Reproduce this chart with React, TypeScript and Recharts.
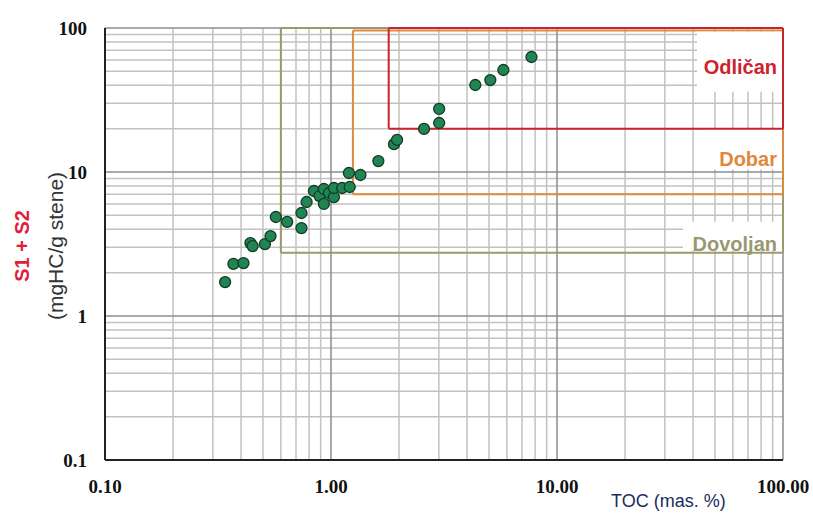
import React from 'react'
import {
  ScatterChart,
  Scatter,
  XAxis,
  YAxis,
  ReferenceLine,
} from 'recharts'

// TOC (mas. %) and S1 + S2 (mgHC/g stene)
const toc = [
  0.34, 0.37, 0.41, 0.44, 0.45, 0.51, 0.54, 0.57, 0.64, 0.74, 0.74, 0.78, 0.84,
  0.89, 0.93, 0.93, 0.98, 1.03, 1.03, 1.12, 1.21, 1.2, 1.35, 1.62, 1.9, 1.96,
  2.58, 3.01, 3.01, 4.35, 5.07, 5.79, 7.71,
]
const s1s2 = [
  1.72, 2.3, 2.33, 3.21, 3.06, 3.16, 3.59, 4.87, 4.5, 4.08, 5.19, 6.19, 7.38,
  6.81, 6.0, 7.62, 7.15, 6.7, 7.74, 7.74, 7.87, 9.84, 9.53, 11.9, 15.6, 16.7,
  19.9, 21.9, 27.4, 40.2, 43.5, 51.1, 62.9,
]

const xTicks = [0.1, 1, 10, 100]
const yTicks = [0.1, 1, 10, 100]

// quality classes: name, min TOC, min S1+S2
const classNames = ['Dovoljan', 'Dobar', 'Odličan']
const classToc = [0.6, 1.25, 1.8]
const classS = [2.75, 7, 20]
const classTop = [100, 96, 100]

const classColors = ['#9c9a6c', '#dc8a3e', '#c8242e']
const labelColors = ['#9a9870', '#e0883a', '#d01f2e']

// log grid lines
const minor: number[] = []
for (const d of [0.1, 1, 10]) for (let k = 2; k <= 9; k++) minor.push(+(d * k).toFixed(2))
const major = [1, 10, 100]

const data = toc.map((t, i) => ({ toc: t, s: s1s2[i] }))

// label placement inside each box (px from box bottom)
const labelLayout = [
  { fromBottom: 9, bgTop: 31, bgBottom: 2, bgWidth: 100 },
  { fromBottom: 35, bgTop: 65, bgBottom: 25, bgWidth: 80 },
  { fromBottom: 62, bgTop: 97, bgBottom: 37, bgWidth: 86 },
]

const BoxLabel = (props: any) => {
  const { viewBox, text, color, fromBottom, bgTop, bgBottom, bgWidth } = props
  if (!viewBox) return null
  const right = viewBox.x + (viewBox.width || 0)
  const bottom = viewBox.y
  return (
    <g>
      <rect x={right - bgWidth} y={bottom - bgTop} width={bgWidth - 1} height={bgTop - bgBottom} fill="#fff" />
      <text
        x={right - 6}
        y={bottom - fromBottom}
        textAnchor="end"
        dominantBaseline="central"
        fill={color}
        fontFamily="'Liberation Sans', Arial, sans-serif"
        fontWeight="bold"
        fontSize={20}
      >
        {text}
      </text>
    </g>
  )
}

const Dot = (p: any) => (
  <circle cx={p.cx} cy={p.cy} r={5.5} fill="#1f8552" stroke="#143a26" strokeWidth={1.3} />
)

const tickStyle = {
  fontFamily: "'Liberation Serif', 'Times New Roman', serif",
  fontWeight: 'bold' as const,
  fontSize: 19,
  fill: '#111',
}

export default function App() {
  return (
    <div style={{ position: 'absolute', left: 0, top: 0, width: 813, height: 513, background: '#fff' }}>
      <ScatterChart width={813} height={513} margin={{ top: 28, right: 30, left: 55, bottom: 23 }}>
        <XAxis
          type="number"
          dataKey="toc"
          scale="log"
          domain={[0.1, 100]}
          ticks={xTicks}
          allowDataOverflow
          height={30}
          tickLine={false}
          tickSize={0}
          tickMargin={20}
          axisLine={{ stroke: '#222', strokeWidth: 2 }}
          tick={tickStyle}
          tickFormatter={(v: number) => v.toFixed(2)}
        />
        <YAxis
          type="number"
          dataKey="s"
          scale="log"
          domain={[0.1, 100]}
          ticks={yTicks}
          allowDataOverflow
          width={50}
          tickLine={false}
          tickSize={0}
          tickMargin={18}
          axisLine={{ stroke: '#222', strokeWidth: 2 }}
          tick={tickStyle}
          tickFormatter={(v: number) => String(v)}
        />
        {minor.map((v) => (
          <ReferenceLine key={'mx' + v} x={v} stroke="#c2c2c2" strokeWidth={1.5} />
        ))}
        {minor.map((v) => (
          <ReferenceLine key={'my' + v} y={v} stroke="#c2c2c2" strokeWidth={1.5} />
        ))}
        {major.map((v) => (
          <ReferenceLine key={'vx' + v} x={v} stroke="#8c8c8c" strokeWidth={1.5} />
        ))}
        {major.map((v) => (
          <ReferenceLine key={'hy' + v} y={v} stroke="#8c8c8c" strokeWidth={1.5} />
        ))}
        {classNames.map((name, i) => {
          const x1 = classToc[i]
          const y1 = classS[i]
          const y2 = classTop[i]
          const c = classColors[i]
          return [
            <ReferenceLine
              key={name + 'b'}
              segment={[{ x: x1, y: y1 }, { x: 100, y: y1 }]}
              stroke={c}
              strokeWidth={2}
              label={<BoxLabel text={name} color={labelColors[i]} {...labelLayout[i]} />}
            />,
            <ReferenceLine key={name + 't'} segment={[{ x: x1, y: y2 }, { x: 100, y: y2 }]} stroke={c} strokeWidth={2} />,
            <ReferenceLine key={name + 'l'} segment={[{ x: x1, y: y1 }, { x: x1, y: y2 }]} stroke={c} strokeWidth={2} />,
            <ReferenceLine key={name + 'r'} segment={[{ x: 100, y: y1 }, { x: 100, y: y2 }]} stroke={c} strokeWidth={2} />,
          ]
        })}
        <Scatter data={data} shape={<Dot />} isAnimationActive={false} />
      </ScatterChart>
      <div
        style={{
          position: 'absolute',
          left: 22,
          top: 246,
          transform: 'translate(-50%, -50%) rotate(-90deg)',
          whiteSpace: 'nowrap',
          fontFamily: "'Liberation Sans', Arial, sans-serif",
          fontWeight: 'bold',
          fontSize: 20,
          color: '#e0203a',
        }}
      >
        S1 + S2
      </div>
      <div
        style={{
          position: 'absolute',
          left: 56,
          top: 246,
          transform: 'translate(-50%, -50%) rotate(-90deg)',
          whiteSpace: 'nowrap',
          fontFamily: "'Liberation Sans', Arial, sans-serif",
          fontSize: 21,
          color: '#333',
        }}
      >
        (mgHC/g stene)
      </div>
      <div
        style={{
          position: 'absolute',
          left: 611,
          top: 491,
          whiteSpace: 'nowrap',
          fontFamily: "'Liberation Sans', Arial, sans-serif",
          fontSize: 18,
          color: '#1c2c5c',
          lineHeight: '20px',
        }}
      >
        TOC (mas. %)
      </div>
    </div>
  )
}
